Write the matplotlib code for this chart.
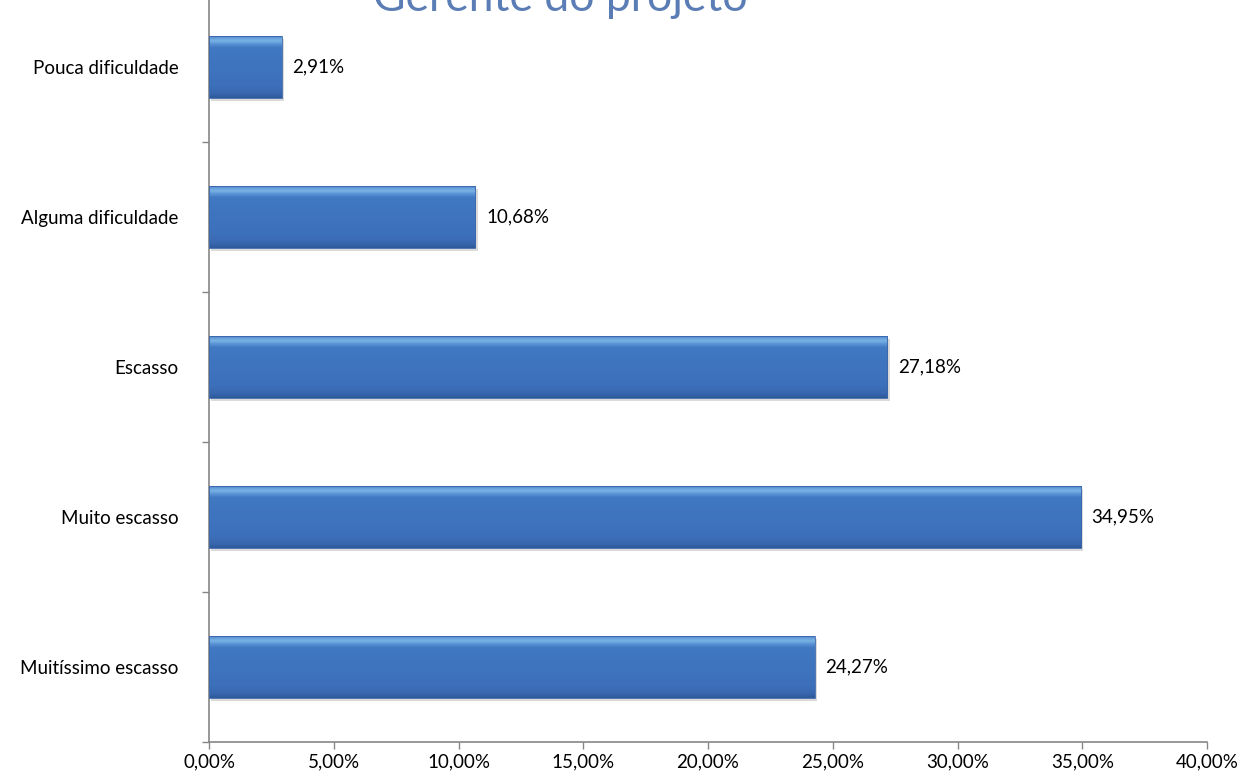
import numpy as np
import matplotlib.pyplot as plt
from matplotlib.colors import LinearSegmentedColormap
from matplotlib.patches import Rectangle

plt.rcParams['font.family'] = ['Lato', 'DejaVu Sans']

# respostas (de cima para baixo)
categorias = ["Pouca dificuldade", "Alguma dificuldade", "Escasso",
              "Muito escasso", "Muitíssimo escasso"]
valores = [2.91, 10.68, 27.18, 34.95, 24.27]
xticks = [0, 5, 10, 15, 20, 25, 30, 35, 40]

fig = plt.figure(figsize=(12.54, 7.78), dpi=100)
ax = fig.add_axes([209/1254, 36/778, 998/1254, 750/778])

# gradiente vertical do "bevel" azul (origem em baixo)
grad = LinearSegmentedColormap.from_list("bev", [
    (0.0, "#2e5a9a"), (0.06, "#3866ad"), (0.2, "#3d70bb"),
    (0.6, "#3f75bf"), (0.82, "#4179c3"), (0.88, "#5a94d6"),
    (0.93, "#78b2e4"), (0.97, "#6aa2dc"), (1.0, "#4f82c8")])
gimg = np.linspace(0, 1, 80).reshape(-1, 1)

h = 0.41
ypos = np.arange(len(categorias))[::-1]
for y, v, nome in zip(ypos, valores, categorias):
    # sombra
    ax.add_patch(Rectangle((0.1, y - h/2 - 0.02), v, h, color="#bdbdbd",
                           alpha=0.55, lw=0, zorder=1))
    im = ax.imshow(gimg, cmap=grad, aspect="auto", origin="lower",
                   extent=(0, v, y - h/2, y + h/2), zorder=2)
    r = Rectangle((0, y - h/2), v, h, fc="none", ec="#3a66aa", lw=0.6, zorder=3)
    ax.add_patch(r)
    im.set_clip_path(r)
    ax.text(v + 0.42, y, f"{v:.2f}%".replace(".", ","), va="center",
            ha="left", fontsize=13.5, color="black")

ax.set_xlim(0, 40)
ax.set_ylim(-0.5, len(categorias) - 0.5)
ax.set_xticks(xticks)
ax.set_xticklabels([f"{t:.2f}%".replace(".", ",") for t in xticks], fontsize=13.5)
ax.set_yticks(ypos)
ax.set_yticklabels(categorias, fontsize=13.5)
ax.set_yticks(np.arange(-0.5, len(categorias)), minor=True)
ax.tick_params(axis="y", which="major", length=0, pad=22)
ax.tick_params(axis="y", which="minor", length=5, color="#868686", width=1)
ax.tick_params(axis="x", length=5, color="#868686", width=1, pad=3)

for s in ["top", "right"]:
    ax.spines[s].set_visible(False)
for s in ["left", "bottom"]:
    ax.spines[s].set_color("#868686")
    ax.spines[s].set_linewidth(1.2)

# título (parcialmente fora da figura, no topo)
fig.text(560/1254, 1 - 11/778, "Gerente do projeto", ha="center",
         va="baseline", fontsize=32, color="#5b7db5")

fig.savefig("out.png", dpi=100)
